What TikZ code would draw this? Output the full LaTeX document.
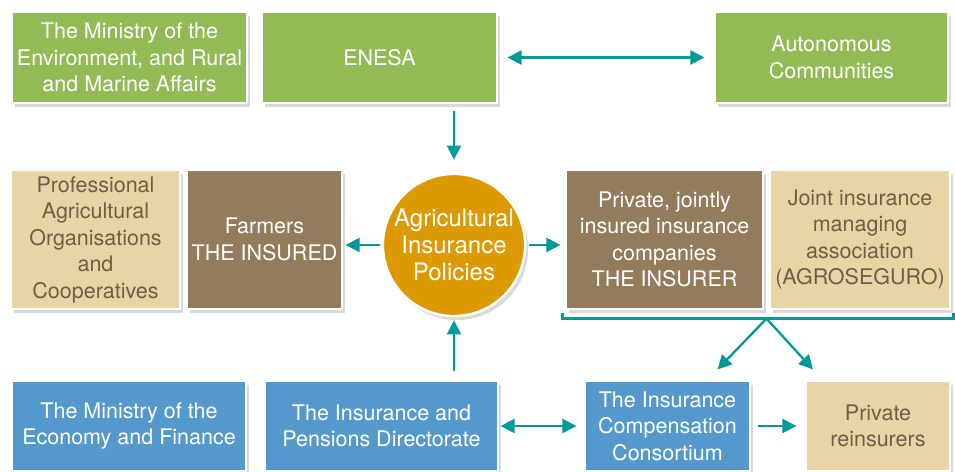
\documentclass[tikz,border=0pt]{standalone}
\usepackage{fontspec}
\setmainfont{TeX Gyre Heros}
\usetikzlibrary{arrows.meta,shadows,calc}
\definecolor{leaf}{HTML}{93BB55}
\definecolor{soil}{HTML}{927C5B}
\definecolor{straw}{HTML}{E8D5A5}
\definecolor{strawtext}{HTML}{6E5E46}
\definecolor{sky}{HTML}{5599CC}
\definecolor{grain}{HTML}{DC9900}
\definecolor{link}{HTML}{00999A}
\begin{document}
\begin{tikzpicture}[x=1pt, y=-1pt,
    box/.style={draw=white, line width=1.2pt, align=center, inner sep=1pt,
      font=\fontsize{21.5}{26.5}\selectfont, text=white,
      drop shadow={opacity=0.3, shadow xshift=3pt, shadow yshift=-4pt}},
    leafbox/.style={box, fill=leaf, minimum height=91pt},
    soilbox/.style={box, fill=soil, minimum height=139pt},
    strawbox/.style={box, fill=straw, text=strawtext},
    skybox/.style={box, fill=sky, minimum height=90pt},
    arr/.style={draw=link, line width=2.3pt, -{Triangle[length=14pt,width=14pt]}},
    twoway/.style={arr, {Triangle[length=14pt,width=14pt]}-{Triangle[length=14pt,width=14pt]}}]
  \useasboundingbox (0, 0) rectangle (955, 471);

  % 1. ministries and communities
  \node[leafbox, minimum width=235pt] (env) at (129.5, 57.5)
    {The Ministry of the\\Environment, and Rural\\and Marine Affairs};
  \node[leafbox, minimum width=235pt] (enesa) at (379.5, 57.5) {ENESA};
  \node[leafbox, minimum width=233pt] (auto) at (831.5, 57.5) {Autonomous\\Communities};

  % 2. policies, insured and insurer
  \node[strawbox, minimum width=169pt, minimum height=139pt] (prof) at (95.5, 239.5)
    {Professional\\Agricultural\\Organisations\\and\\Cooperatives};
  \node[soilbox, minimum width=155pt] (farm) at (264.5, 239.5) {Farmers\\THE INSURED};
  \node[box, circle, fill=grain, draw=white, line width=2.5pt, minimum size=139pt,
    font=\fontsize{24}{27}\selectfont] (pol)
    at (454, 245) {Agricultural\\Insurance\\Policies};
  \node[soilbox, minimum width=197pt] (priv) at (664.5, 239.5)
    {Private, jointly\\insured insurance\\companies\\THE INSURER};
  \node[strawbox, minimum width=180pt, minimum height=139pt] (joint) at (860, 239.5)
    {Joint insurance\\managing\\association\\(AGROSEGURO)};

  % 3. finance and reinsurance
  \node[skybox, minimum width=234pt] (econ) at (129, 426)
    {The Ministry of the\\Economy and Finance};
  \node[skybox, minimum width=233pt] (dir) at (381.5, 426)
    {The Insurance and\\Pensions Directorate};
  \node[skybox, minimum width=165pt] (cons) at (667.5, 426)
    {The Insurance\\Compensation\\Consortium};
  \node[strawbox, minimum width=144pt, minimum height=90pt] (reins) at (878, 426)
    {Private\\reinsurers};

  % bracket under the insurer
  \coordinate (br1) at ([shift={(-3, 3)}]priv.south west);
  \coordinate (br2) at ([shift={(-3, 9)}]priv.south west);
  \coordinate (br3) at ([shift={(3, 9)}]joint.south east);
  \coordinate (br4) at ([shift={(3, 3)}]joint.south east);
  \coordinate (brm) at ([yshift=-9pt]$(priv.south east)!.5!(joint.south west)$);
  \coordinate (tipC) at ([shift={(50, -11)}]cons.north);
  \coordinate (tipR) at ([shift={(-65, -11)}]reins.north);
  \draw[draw=link, line width=2.3pt] (br1) -- (br2) -- (br3) -- (br4);

  % arrows
  \draw[twoway, shorten <=10pt, shorten >=10pt] (enesa) -- (auto);
  \draw[arr, shorten <=7pt, shorten >=13pt] (enesa.south -| pol) -- (pol.north);
  \draw[arr, shorten <=2pt, shorten >=3pt] (pol.west) -- (pol.west -| farm.east);
  \draw[arr, shorten <=3pt, shorten >=5pt] (pol.east) -- (pol.east -| priv.west);
  \draw[arr, shorten <=9pt, shorten >=3pt] (dir.north -| pol) -- (pol.south);
  \draw[twoway, shorten <=2pt, shorten >=8pt] (dir) -- (cons);
  \draw[arr, shorten <=7pt, shorten >=9pt] (cons) -- (reins);
  \draw[arr] (brm) -- (tipC);
  \draw[arr] (brm) -- (tipR);
\end{tikzpicture}
\end{document}
